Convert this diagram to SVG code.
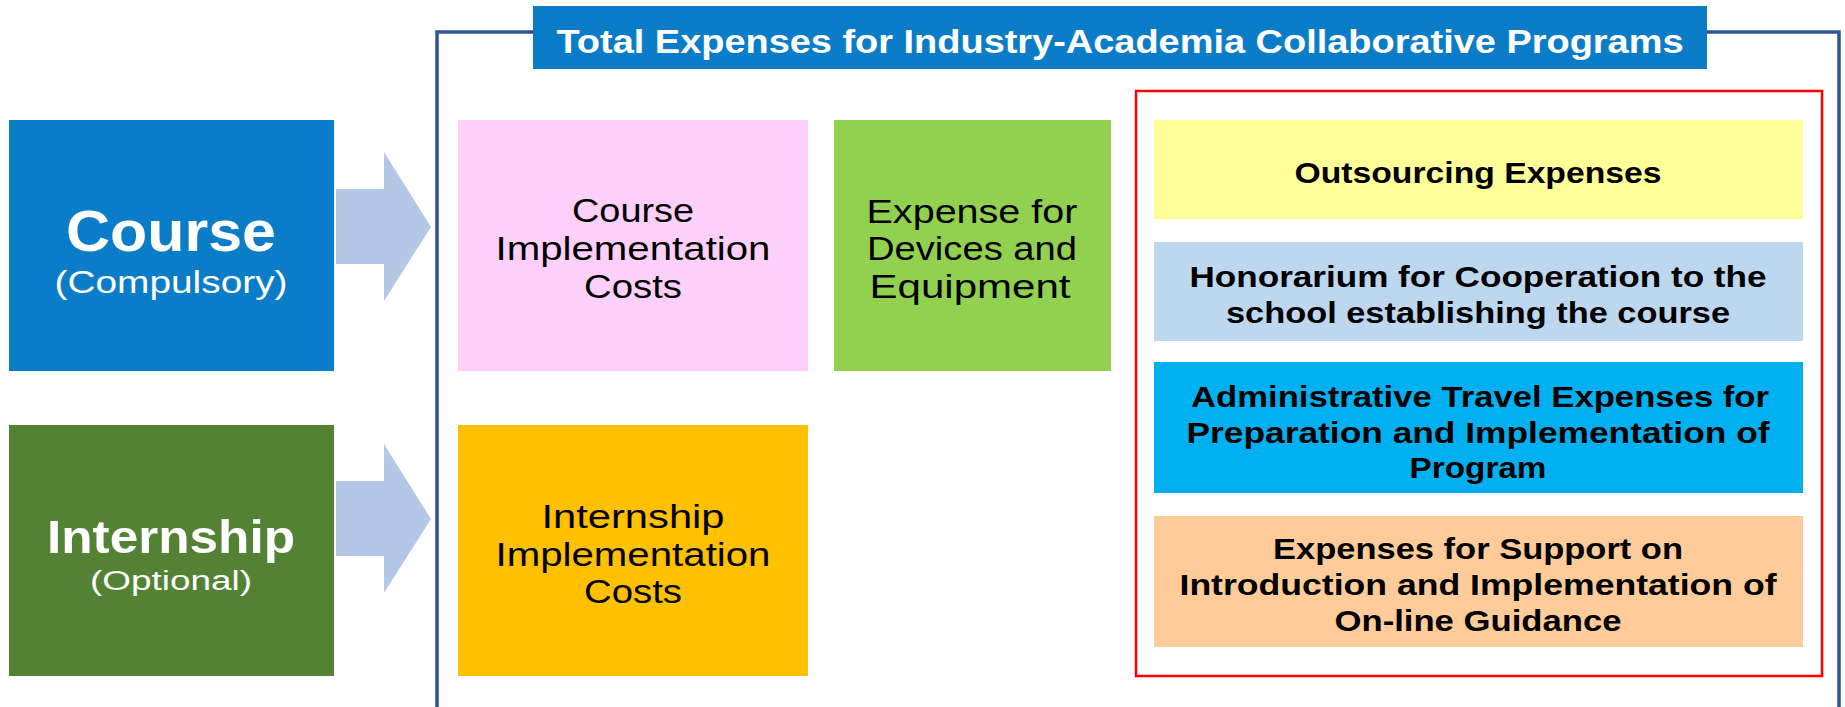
<svg xmlns="http://www.w3.org/2000/svg" width="1845" height="707" viewBox="0 0 1845 707">
<style>
text{font-family:"Liberation Sans",Arial,sans-serif;text-anchor:middle;fill:#000}
.w{fill:#fff}
.b{font-weight:bold}
.r{font-size:34px}
.m{font-size:30px;font-weight:bold}
</style>
<defs>
<path id="arrowShape" d="M0,37 H48 V0 L95,75 L48,149 V112 H0 Z"/>
</defs>
<rect width="1845" height="707" fill="#fff"/>
<g id="frame">
<path d="M437,707 V32 H1839 V707" fill="none" stroke="#2F5597" stroke-width="3.5"/>
</g>
<g id="header">
<rect x="533" y="6" width="1174" height="63" fill="#0B7DC8"/>
<text x="1120" y="53" class="w b" style="font-size:33px" textLength="1127" lengthAdjust="spacingAndGlyphs">Total Expenses for Industry-Academia Collaborative Programs</text>
</g>
<g id="connectors">
<use href="#arrowShape" x="336" y="152" fill="#B4C7E7"/>
<use href="#arrowShape" x="336" y="444" fill="#B4C7E7"/>
</g>
<g id="course">
<rect x="9" y="120" width="325" height="251" fill="#0B7DC8"/>
<text x="171" y="251" class="w b" style="font-size:58px" textLength="210" lengthAdjust="spacingAndGlyphs">Course</text>
<text x="171" y="293" class="w" style="font-size:31px" textLength="233" lengthAdjust="spacingAndGlyphs">(Compulsory)</text>
</g>
<g id="internship">
<rect x="9" y="425" width="325" height="251" fill="#548235"/>
<text x="171" y="553" class="w b" style="font-size:46px" textLength="248" lengthAdjust="spacingAndGlyphs">Internship</text>
<text x="171" y="590" class="w" style="font-size:27px" textLength="162" lengthAdjust="spacingAndGlyphs">(Optional)</text>
</g>
<g id="course-costs">
<rect x="458" y="120" width="350" height="251" fill="#FDD0FB"/>
<text x="633" y="222" class="r" textLength="122" lengthAdjust="spacingAndGlyphs">Course</text>
<text x="633" y="260" class="r" textLength="275" lengthAdjust="spacingAndGlyphs">Implementation</text>
<text x="633" y="298" class="r" textLength="98" lengthAdjust="spacingAndGlyphs">Costs</text>
</g>
<g id="devices">
<rect x="834" y="120" width="277" height="251" fill="#92D050"/>
<text x="972" y="223" class="r" textLength="211" lengthAdjust="spacingAndGlyphs">Expense for</text>
<text x="972" y="260" class="r" textLength="210" lengthAdjust="spacingAndGlyphs">Devices and</text>
<text x="970" y="298" class="r" textLength="201" lengthAdjust="spacingAndGlyphs">Equipment</text>
</g>
<g id="internship-costs">
<rect x="458" y="425" width="350" height="251" fill="#FFC000"/>
<text x="633" y="528" class="r" textLength="183" lengthAdjust="spacingAndGlyphs">Internship</text>
<text x="633" y="566" class="r" textLength="275" lengthAdjust="spacingAndGlyphs">Implementation</text>
<text x="633" y="603" class="r" textLength="98" lengthAdjust="spacingAndGlyphs">Costs</text>
</g>
<g id="other-expenses">
<rect x="1136" y="91" width="686" height="585" fill="none" stroke="#FF0000" stroke-width="2.5"/>
</g>
<g id="outsourcing">
<rect x="1154" y="120" width="649" height="99" fill="#FFFF99"/>
<text x="1478" y="183" class="m" textLength="367" lengthAdjust="spacingAndGlyphs">Outsourcing Expenses</text>
</g>
<g id="honorarium">
<rect x="1154" y="242" width="649" height="99" fill="#BDD7EE"/>
<text x="1478" y="287" class="m" textLength="577" lengthAdjust="spacingAndGlyphs">Honorarium for Cooperation to the</text>
<text x="1478" y="323" class="m" textLength="504" lengthAdjust="spacingAndGlyphs">school establishing the course</text>
</g>
<g id="travel">
<rect x="1154" y="362" width="649" height="131" fill="#00B0F0"/>
<text x="1480" y="407" class="m" textLength="578" lengthAdjust="spacingAndGlyphs">Administrative Travel Expenses for</text>
<text x="1478" y="443" class="m" textLength="583" lengthAdjust="spacingAndGlyphs">Preparation and Implementation of</text>
<text x="1478" y="478" class="m" textLength="137" lengthAdjust="spacingAndGlyphs">Program</text>
</g>
<g id="online">
<rect x="1154" y="516" width="649" height="131" fill="#FFCC99"/>
<text x="1478" y="559" class="m" textLength="410" lengthAdjust="spacingAndGlyphs">Expenses for Support on</text>
<text x="1478" y="595" class="m" textLength="597" lengthAdjust="spacingAndGlyphs">Introduction and Implementation of</text>
<text x="1478" y="631" class="m" textLength="287" lengthAdjust="spacingAndGlyphs">On-line Guidance</text>
</g>
</svg>
